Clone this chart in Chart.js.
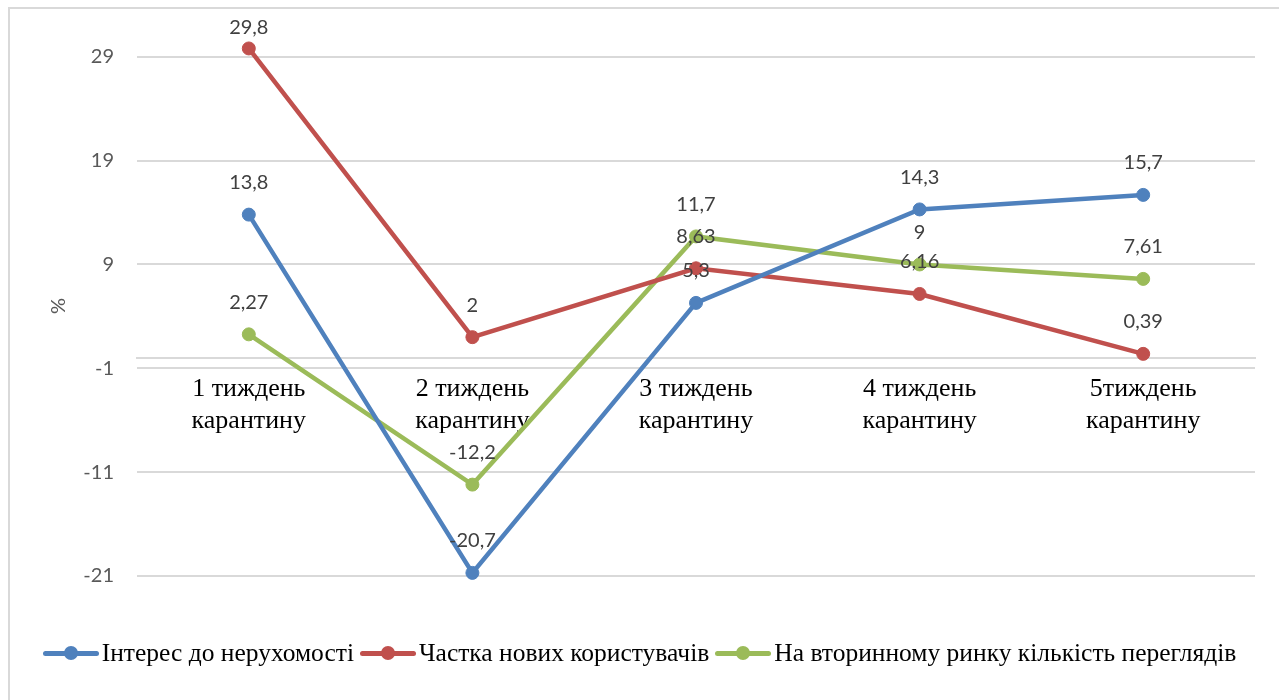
<!DOCTYPE html>
<html lang="uk">
<head>
<meta charset="utf-8">
<title>Інтерес до нерухомості під час карантину</title>
<script src="https://cdn.jsdelivr.net/npm/chart.js@4.4.1/dist/chart.umd.min.js"></script>
<style>
  html, body { margin: 0; padding: 0; background: #fff; }
  .wrap { position: relative; width: 1279px; height: 700px; overflow: hidden; }
  #chart { display: block; }
  #legend {
    position: absolute; left: 0; top: 638px; width: 1279px;
    display: flex; justify-content: center; align-items: center;
    font: 25.5px "Liberation Serif", "Times New Roman", serif; line-height: 30px; color: #000;
  }
  .item { display: flex; align-items: center; margin: 0 3px; white-space: nowrap; }
  .mark { position: relative; width: 56px; height: 5px; border-radius: 3px; margin-right: 3px; }
  .mark::after {
    content: ''; position: absolute; left: 21px; top: -5px;
    width: 14px; height: 14px; border-radius: 50%; background: inherit;
  }
</style>
</head>
<body>
<div class="wrap">
  <canvas id="chart" width="1279" height="700"></canvas>
  <div id="legend"></div>
</div>
<script>
// weekly change, %
const weeks = [
  ['1 тиждень', 'карантину'],
  ['2 тиждень', 'карантину'],
  ['3 тиждень', 'карантину'],
  ['4 тиждень', 'карантину'],
  ['5тиждень', 'карантину']
];
const seriesNames = [
  'Інтерес до нерухомості',
  'Частка нових користувачів',
  'На вторинному ринку кількість переглядів'
];
const interest = [13.8, -20.7, 5.3, 14.3, 15.7];
const newUsers = [29.8, 2, 8.63, 6.16, 0.39];
const secondaryViews = [2.27, -12.2, 11.7, 9, 7.61];
const yTicks = [-21, -11, -1, 9, 19, 29];
const yMin = -21;
const yMax = 31;

const colors = ['#4F81BD', '#C0504D', '#9BBB59'];
const GRID = '#D9D9D9';
const numFont = '"Lato", "Open Sans", sans-serif';
const serifFont = '"Liberation Serif", "Times New Roman", serif';

// light frame around the chart
const frame = {
  id: 'frame',
  beforeDraw(chart) {
    const ctx = chart.ctx;
    ctx.save();
    ctx.strokeStyle = GRID;
    ctx.lineWidth = 2;
    ctx.strokeRect(9, 8, 1400, 800);
    ctx.restore();
  }
};

// value above every point, decimal comma
const valueLabels = {
  id: 'valueLabels',
  afterDatasetsDraw(chart) {
    const ctx = chart.ctx;
    ctx.save();
    ctx.font = '20px ' + numFont;
    ctx.fillStyle = '#404040';
    ctx.textAlign = 'center';
    ctx.textBaseline = 'middle';
    chart.data.datasets.forEach((ds, i) => {
      chart.getDatasetMeta(i).data.forEach((pt, j) => {
        const y = Math.max(pt.y - 32, 28);
        ctx.fillText(String(ds.data[j]).replace('.', ','), pt.x, y);
      });
    });
    ctx.restore();
  }
};

const makeSet = (label, data, color) => ({
  label,
  data,
  borderColor: color,
  backgroundColor: color,
  pointBackgroundColor: color,
  pointBorderColor: color,
  borderWidth: 4.5,
  pointRadius: 6.5,
  pointBorderWidth: 1,
  pointHoverRadius: 6.5,
  tension: 0,
  clip: false
});

const chart = new Chart(document.getElementById('chart'), {
  type: 'line',
  data: {
    labels: weeks,
    datasets: [
      makeSet(seriesNames[0], interest, colors[0]),
      makeSet(seriesNames[1], newUsers, colors[1]),
      makeSet(seriesNames[2], secondaryViews, colors[2])
    ]
  },
  options: {
    responsive: false,
    animation: false,
    layout: { padding: { top: 36, right: 24, bottom: 124, left: 0 } },
    plugins: {
      legend: { display: false },
      tooltip: { enabled: false }
    },
    scales: {
      x: {
        type: 'category',
        position: { y: 0 },
        offset: true,
        grid: { display: false, drawTicks: false },
        border: { display: true, color: GRID, width: 2 },
        ticks: {
          color: '#000',
          padding: 16,
          maxRotation: 0,
          autoSkip: false,
          font: { family: serifFont, size: 26, lineHeight: 1.2 }
        }
      },
      y: {
        min: yMin,
        max: yMax,
        afterBuildTicks(scale) { scale.ticks = yTicks.map(v => ({ value: v })); },
        afterFit(scale) { scale.width = 137; },
        grid: { color: GRID, lineWidth: 2, drawTicks: false },
        border: { display: false },
        ticks: {
          color: '#595959',
          padding: 23,
          font: { family: numFont, size: 20 },
          callback: v => String(v)
        },
        title: {
          display: true,
          text: '%',
          color: '#595959',
          font: { family: numFont, size: 20, lineHeight: 1.2 },
          padding: { top: 47, bottom: 0 }
        }
      }
    }
  },
  plugins: [frame, valueLabels]
});

// legend: line with round marker, then the series name
const legendBox = document.getElementById('legend');
chart.data.datasets.forEach(ds => {
  const item = document.createElement('div');
  item.className = 'item';
  const mark = document.createElement('span');
  mark.className = 'mark';
  mark.style.background = ds.borderColor;
  const text = document.createElement('span');
  text.textContent = ds.label;
  item.appendChild(mark);
  item.appendChild(text);
  legendBox.appendChild(item);
});
</script>
</body>
</html>
